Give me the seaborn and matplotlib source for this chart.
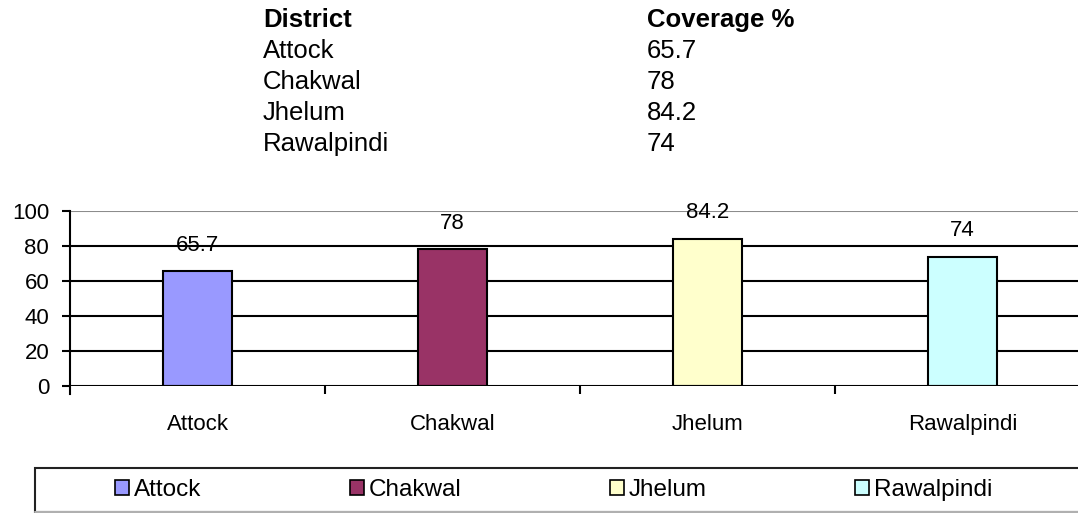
import matplotlib
matplotlib.use("Agg")
import matplotlib.pyplot as plt
import seaborn as sns
import pandas as pd
from matplotlib.patches import Patch, Rectangle
from matplotlib.lines import Line2D

districts = ["Attock", "Chakwal", "Jhelum", "Rawalpindi"]
coverage = [65.7, 78, 84.2, 74]
colors = ["#9999FF", "#993366", "#FFFFCC", "#CCFFFF"]
yticks = [0, 20, 40, 60, 80, 100]

sns.set_theme(style="white")
plt.rcParams["font.family"] = ["Liberation Sans", "DejaVu Sans"]
plt.rcParams["text.color"] = "black"
plt.rcParams["xtick.color"] = "black"
plt.rcParams["ytick.color"] = "black"

df = pd.DataFrame({"District": districts, "Coverage": coverage})

W, H = 1078, 513
fig = plt.figure(figsize=(W / 100, H / 100), dpi=100)
fig.patch.set_facecolor("white")


def fx(px):
    return px / W


def fy(py):
    return 1 - py / H


# data table above the chart
col1, col2 = 263, 647
row_y = [20, 51, 82, 113, 144]
tsize = 18.5
fig.text(fx(col1), fy(row_y[0]), "District", fontsize=tsize, fontweight="bold", va="center")
fig.text(fx(col2), fy(row_y[0]), "Coverage %", fontsize=tsize, fontweight="bold", va="center")
for i, (d, v) in enumerate(zip(districts, coverage)):
    fig.text(fx(col1), fy(row_y[i + 1]), d, fontsize=tsize, va="center")
    fig.text(fx(col2), fy(row_y[i + 1]), f"{v:g}", fontsize=tsize, va="center")

# chart area
left, right = fx(70), fx(1090)
bottom, top = fy(386), fy(211)
ax = fig.add_axes([left, bottom, right - left, top - bottom])
ax.set_facecolor("white")

sns.barplot(data=df, x="District", y="Coverage", hue="District",
            palette=colors, saturation=1, dodge=False, width=0.27,
            edgecolor="black", linewidth=1.5, legend=False, ax=ax, zorder=3)

csize = 16
for c in ax.containers:
    ax.bar_label(c, labels=[f"{v:g}" for v in c.datavalues], padding=11,
                 fontsize=csize, color="black")

ax.set_ylim(0, 100)
ax.set_xlim(-0.5, 3.5)
ax.set_yticks(yticks)
for y in yticks[1:-1]:
    ax.axhline(y, color="black", lw=1.5, zorder=1)
ax.axhline(100, color="#8c8c8c", lw=1.5, zorder=1)
ax.axhline(0, color="black", lw=1.5, zorder=4)

for s in ["top", "right", "bottom"]:
    ax.spines[s].set_visible(False)
ax.spines["left"].set_color("black")
ax.spines["left"].set_linewidth(1.5)
ax.spines["left"].set_bounds(-4.6, 100)
ax.spines["left"].set_zorder(5)

ax.tick_params(axis="y", direction="out", length=6, width=1.5, color="black",
               left=True, labelsize=csize, pad=9)

# category separator ticks along the base
ax.set_xticks([0.5, 1.5, 2.5], minor=True)
ax.tick_params(axis="x", which="minor", direction="out", length=6, width=1.5,
               color="black", bottom=True)
ax.tick_params(axis="x", which="major", length=0, labelsize=csize, pad=20)
ax.set_xlabel("")
ax.set_ylabel("")

# legend strip below the chart
fig.add_artist(Rectangle((fx(35), fy(512)), fx(1100) - fx(35), fy(468) - fy(512),
                         transform=fig.transFigure, facecolor="white",
                         edgecolor="#222222", lw=1.5, zorder=0))
fig.add_artist(Line2D([fx(35), 1.0], [fy(511.5), fy(511.5)],
                      transform=fig.transFigure, color="#b0b0b0", lw=1.5))

handles = [Patch(facecolor=c, edgecolor="black", linewidth=1.2, label=d)
           for d, c in zip(districts, colors)]
leg = fig.legend(handles=handles, loc="center left", ncol=4,
                 bbox_to_anchor=(fx(115), fy(490)),
                 frameon=False, fontsize=17.5, handlelength=0.58,
                 handleheight=0.58, handletextpad=0.2, columnspacing=6.1,
                 borderaxespad=0, borderpad=0)

fig.savefig("out.png", dpi=100, facecolor="white")
